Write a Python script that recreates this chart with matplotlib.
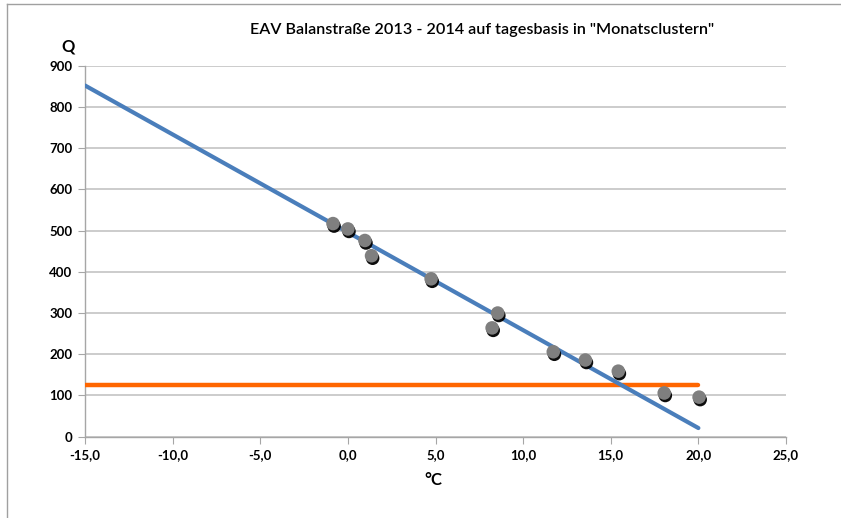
import matplotlib
matplotlib.use("Agg")
import matplotlib.pyplot as plt
import matplotlib.patheffects as pe
from matplotlib.lines import Line2D
from matplotlib.ticker import FuncFormatter, MultipleLocator

plt.rcParams['font.family'] = ['Lato', 'DejaVu Sans']
plt.rcParams['font.weight'] = 'bold'

# Data
temp_c = [-0.85, 0.0, 0.97, 1.35, 4.75, 8.23, 8.55, 11.72, 13.55, 15.43, 18.05, 20.04]
q_vals = [517, 504, 476, 439, 383, 264, 300, 206, 186, 159, 106, 96]
trend_x = [-15.0, 20.0]
trend_y = [852, 21]
base_x = [-15.0, 20.0]
base_y = [125, 125]

W, H = 841, 518
fig = plt.figure(figsize=(W / 100, H / 100), dpi=100)
left, right, top, bottom = 85, 786, 65.7, 436.7
ax = fig.add_axes([left / W, 1 - bottom / H, (right - left) / W, (bottom - top) / H])

ax.set_xlim(-15, 25)
ax.set_ylim(0, 900)
ax.xaxis.set_major_locator(MultipleLocator(5))
ax.yaxis.set_major_locator(MultipleLocator(100))
ax.xaxis.set_major_formatter(FuncFormatter(lambda v, p: f"{v:.1f}".replace('.', ',')))
ax.grid(axis='y', color='#C4C4C4', linewidth=1.2)
ax.set_axisbelow(True)

for s in ['top', 'right']:
    ax.spines[s].set_visible(False)
for s in ['left', 'bottom']:
    ax.spines[s].set_color('#A6A6A6')
    ax.spines[s].set_linewidth(1.0)

ax.tick_params(axis='both', direction='out', length=5, color='#A6A6A6',
               labelsize=9.5, pad=4)

ax.plot(base_x, base_y, color='#FF6600', linewidth=3.2, solid_capstyle='round', zorder=3)
ax.plot(trend_x, trend_y, color='#4A7EBB', linewidth=3.0, solid_capstyle='round', zorder=4)
ax.scatter(temp_c, q_vals, s=95, color='#7F7F7F', edgecolors='none', zorder=5,
           path_effects=[pe.SimplePatchShadow(offset=(0.8, -1.8), shadow_rgbFace='black', alpha=0.95),
                         pe.Normal()])

fig.text(482 / W, 1 - 30 / H, 'EAV Balanstraße 2013 - 2014 auf tagesbasis in "Monatsclustern"',
         ha='center', va='center', fontsize=11.6, fontweight='semibold')
fig.text(68 / W, 1 - 47 / H, 'Q', ha='center', va='center', fontsize=12, fontweight='bold')
fig.text(433 / W, 1 - 480 / H, '°C', ha='center', va='center', fontsize=12, fontweight='bold')

# chart frame (top and left edges)
fig.add_artist(Line2D([7 / W, 7 / W], [0, 1 - 4 / H], color='#A0A0A0', linewidth=1.0))
fig.add_artist(Line2D([7 / W, 1], [1 - 4 / H, 1 - 4 / H], color='#A0A0A0', linewidth=1.0))

fig.savefig('out.png', dpi=100)
